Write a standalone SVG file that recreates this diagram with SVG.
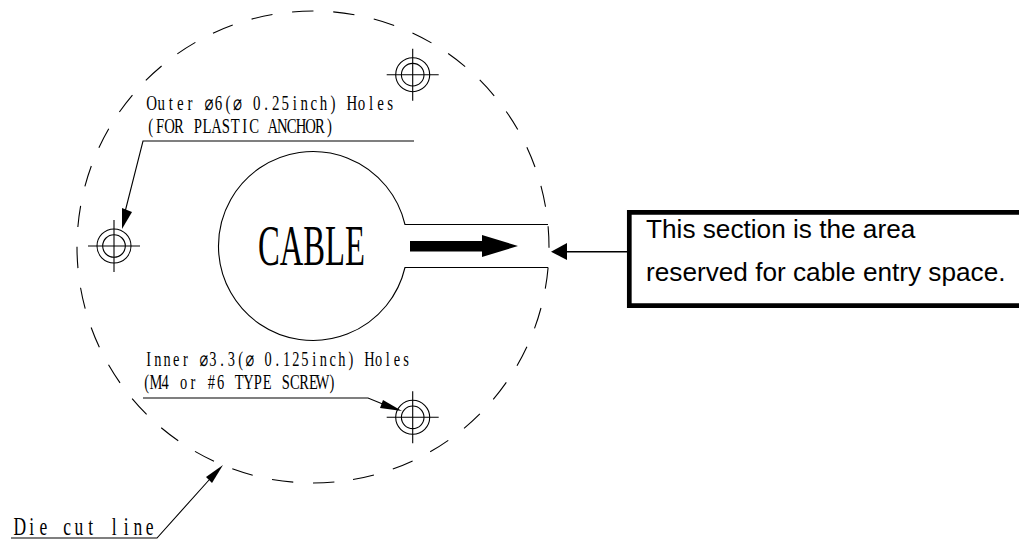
<svg xmlns="http://www.w3.org/2000/svg" width="1019" height="540" viewBox="0 0 1019 540">
<style>
.l{fill:none;stroke:#000;stroke-width:1.1}
.h{fill:#000;stroke:none}
.c{font-family:"Liberation Serif","DejaVu Sans",serif;fill:#000;font-size:21px;text-anchor:middle}
.b{font-family:"Liberation Sans",Arial,sans-serif;fill:#000;font-size:26.2px}
</style>
<defs>
<g id="hole"><circle class="l" r="17"/><circle class="l" r="11.3"/><path class="l" d="M-26 0H26M0-26V26"/></g>
</defs>
<rect width="1019" height="540" fill="#fff"/>
<g id="die-cut-circle"><circle class="l" cx="313" cy="247" r="236" stroke-dasharray="21.4 19.8" transform="rotate(84.8 313 247)"/></g>
<g id="cable-opening">
<path class="l" d="M548 224.5H405A94.5 94.5 0 1 0 405 267.5H548"/>
<text x="258" y="265" textLength="107" lengthAdjust="spacingAndGlyphs" style="font-family:'Liberation Serif',serif;font-size:56px;fill:#000">CABLE</text>
<path class="h" d="M410 241H482V235L518 246L482 257V251.5H410Z"/>
</g>
<g id="hole-top"><use href="#hole" x="412.7" y="74.7"/></g>
<g id="hole-left"><use href="#hole" x="114" y="246"/></g>
<g id="hole-bottom"><use href="#hole" x="412.7" y="417.3"/></g>
<g id="label-outer">
<text class="c" transform="translate(147 110) scale(.71 1)" x="6.7 20.100 33.600 47 60.400 73.900 87.300 100.700 114.100 127.600 141 154.400 167.900 181.300 194.700 208.200 221.600 235 248.400 261.900 275.300 288.700 302.200 315.600 329 342.500">Outer ⌀6(⌀ 0.25inch) Holes</text>
<text class="c" transform="translate(146 133) scale(.7 1)" x="6.7 20.100 33.600 47 60.400 73.900 87.300 100.700 114.100 127.600 141 154.400 167.900 181.300 194.700 208.200 221.600 235 248.400 261.900">(FOR PLASTIC ANCHOR)</text>
</g>
<g id="label-inner">
<text class="c" transform="translate(144 366) scale(.685 1)" x="6.7 20.100 33.600 47 60.400 73.900 87.300 100.700 114.100 127.600 141 154.400 167.900 181.300 194.700 208.200 221.600 235 248.400 261.900 275.300 288.700 302.200 315.600 329 342.500 355.900 369.300 382.700">Inner ⌀3.3(⌀ 0.125inch) Holes</text>
<text class="c" transform="translate(142 389) scale(.69 1)" x="6.7 20.100 33.600 47 60.400 73.900 87.300 100.700 114.100 127.600 141 154.400 167.900 181.300 194.700 208.200 221.600 235 248.400 261.900 275.300">(M4 or #6 TYPE SCREW)</text>
</g>
<g id="label-die-cut">
<text class="c" transform="translate(14 535) scale(.7 1)" x="8.400 25.300 42.100 59 75.800 92.700 109.600 126.400 143.300 160.100 177 193.900" style="font-size:25px">Die cut line</text>
</g>
<g id="note-box">
<path fill="#fff" stroke="#000" stroke-width="4.700" d="M1019 212.400H629.300V305.700H1019"/>
<text class="b" x="646" y="238.300">This section is the area</text>
<text class="b" x="646" y="281">reserved for cable entry space.</text>
</g>
<g id="connectors">
<path class="l" d="M414 141H143L125 212"/>
<path class="h" d="M122 229L122 208L132 212Z"/>
<path class="l" d="M143 398H368L390 407"/>
<path class="h" d="M402 411L383 400L380 408Z"/>
<path class="l" d="M11 538H157L209 480"/>
<path class="h" d="M223 465L206 477L212 483Z"/>
<path class="l" d="M627 251.700H567" style="stroke-width:1.500"/>
<path class="h" d="M551 251.700L567 243V260Z"/>
</g>
</svg>
